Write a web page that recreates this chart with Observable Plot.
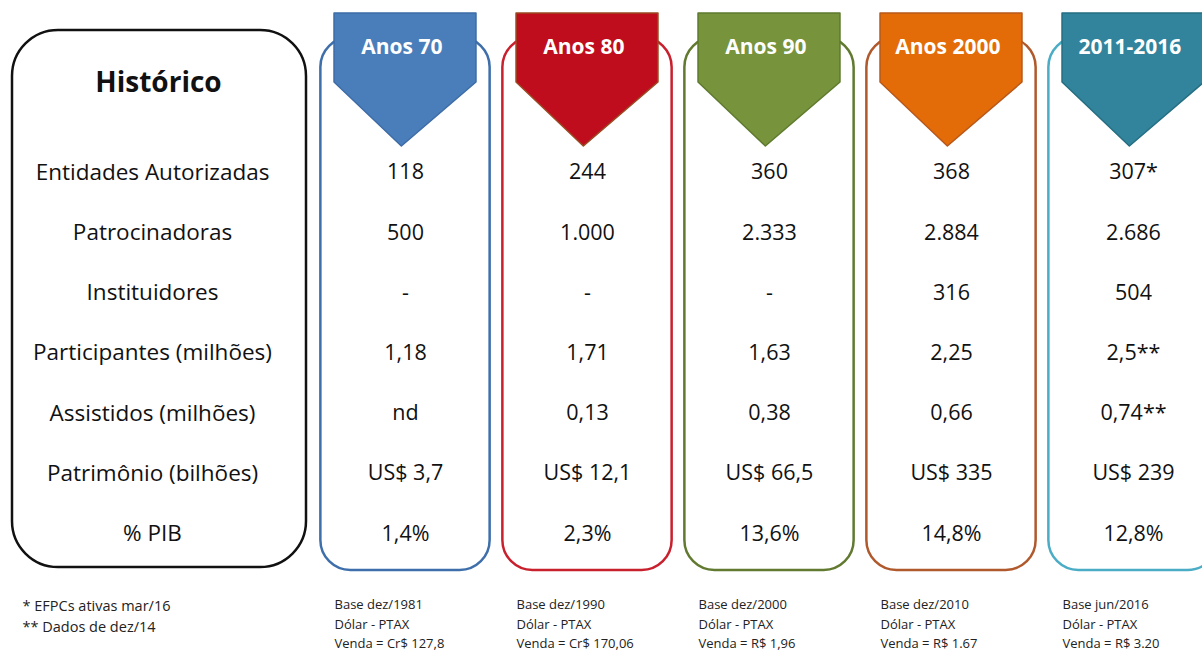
<!DOCTYPE html>
<html>
<head>
<meta charset="utf-8">
<script src="https://cdn.jsdelivr.net/npm/d3@7"></script>
<script src="https://cdn.jsdelivr.net/npm/@observablehq/plot@0.6"></script>
<style>
  html, body { margin: 0; padding: 0; background: #fff; }
  svg { display: block; }
</style>
</head>
<body>
<div id="chart"></div>
<script>
// ---------- DATA ----------
const periods = ["Anos 70", "Anos 80", "Anos 90", "Anos 2000", "2011-2016"];
const rowLabels = [
  "Entidades Autorizadas",
  "Patrocinadoras",
  "Instituidores",
  "Participantes (milhões)",
  "Assistidos (milhões)",
  "Patrimônio (bilhões)",
  "% PIB"
];
const anos70   = ["118",  "500",   "-",   "1,18",  "nd",     "US$ 3,7",  "1,4%"];
const anos80   = ["244",  "1.000", "-",   "1,71",  "0,13",   "US$ 12,1", "2,3%"];
const anos90   = ["360",  "2.333", "-",   "1,63",  "0,38",   "US$ 66,5", "13,6%"];
const anos2000 = ["368",  "2.884", "316", "2,25",  "0,66",   "US$ 335",  "14,8%"];
const anos2011 = ["307*", "2.686", "504", "2,5**", "0,74**", "US$ 239",  "12,8%"];
const title = "Histórico";
const footnotes = ["* EFPCs ativas mar/16", "** Dados de dez/14"];
const baseDates = ["Base dez/1981", "Base dez/1990", "Base dez/2000", "Base dez/2010", "Base jun/2016"];
const dolarLabel = "Dólar - PTAX";
const vendas = ["Venda = Cr$ 127,8", "Venda = Cr$ 170,06", "Venda = R$ 1,96", "Venda = R$ 1.67", "Venda = R$ 3.20"];

// ---------- STYLE ----------
const headFill   = ["#4a7ebb", "#c00d1e", "#77933c", "#e36c09", "#31849b"];
const headStroke = ["#3d6ca6", "#9a4a22", "#5e7a2e", "#b8581a", "#256e82"];
const boxStroke  = ["#3e6fab", "#c8202d", "#617a30", "#b0592c", "#4bacc6"];
const font = "Open Sans, Lato, sans-serif";

// ---------- LAYOUT (column / row units) ----------
const W = 1202, H = 655;
const COL0 = 405, COLSTEP = 182;   // column centre spacing
const ROW0 = 172, ROWSTEP = 60.2;  // row spacing
const ux = px => (px - COL0) / COLSTEP;
const uy = px => (px - ROW0) / ROWSTEP;

const columns = [anos70, anos80, anos90, anos2000, anos2011];
const cells = columns.flatMap((col, c) => col.map((v, r) => ({c, r, v})));

const headHalf = 0.39;
const headPts = periods.flatMap((p, i) => [
  {i, x: i - headHalf, bot: uy(82)},
  {i, x: i - 0.02,     bot: uy(146)},
  {i, x: i + headHalf, bot: uy(82)}
]);

const chart = Plot.plot({
  width: W, height: H,
  margin: 0,
  x: {type: "linear", domain: [ux(0), ux(W)], range: [0, W], axis: null},
  y: {type: "linear", domain: [uy(0), uy(H)], range: [0, H], axis: null},
  color: {type: "identity"},
  marks: [
    // left label box
    Plot.rect([title], {x1: ux(12), x2: ux(306), y1: uy(30), y2: uy(567), rx: 46,
      fill: "white", stroke: "#111", strokeWidth: 2.5}),
    Plot.text([title], {x: ux(158), y: uy(83), text: d => d, fontSize: 28, fontWeight: "bold",
      fontFamily: font, fill: "#111"}),
    Plot.text(rowLabels, {x: ux(152), y: (d, i) => i, text: d => d, fontSize: 22.5,
      fontFamily: font, fill: "#111"}),
    // column boxes
    Plot.rect(periods, {x1: (d, i) => i - 0.465, x2: (d, i) => i + 0.465,
      y1: uy(37), y2: uy(570), rx: 30, fill: "white",
      stroke: (d, i) => boxStroke[i], strokeWidth: 2.5}),
    // pentagon headers
    Plot.area(headPts, {x1: "x", y1: () => uy(13), y2: "bot", z: "i",
      fill: d => headFill[d.i], stroke: d => headStroke[d.i], strokeWidth: 1.5, curve: "linear"}),
    Plot.text(periods, {x: (d, i) => i - 0.02, y: uy(47), text: d => d, fill: "white",
      fontSize: 21, fontWeight: "bold", fontFamily: font}),
    // values
    Plot.text(cells, {x: "c", y: "r", text: "v", fontSize: 21.5, fontFamily: font, fill: "#111"}),
    // footnotes
    Plot.text(footnotes, {x: ux(22), y: (d, i) => uy(606) + i * (uy(627) - uy(606)), text: d => d,
      textAnchor: "start", fontSize: 14.5, fontFamily: font, fill: "#222"}),
    Plot.text(baseDates, {x: (d, i) => i - 0.39, y: uy(604), text: d => d,
      textAnchor: "start", fontSize: 13, fontFamily: font, fill: "#222"}),
    Plot.text(periods, {x: (d, i) => i - 0.39, y: uy(624), text: () => dolarLabel,
      textAnchor: "start", fontSize: 13, fontFamily: font, fill: "#222"}),
    Plot.text(vendas, {x: (d, i) => i - 0.39, y: uy(643), text: d => d,
      textAnchor: "start", fontSize: 13, fontFamily: font, fill: "#222"})
  ]
});
document.getElementById("chart").appendChild(chart);
</script>
</body>
</html>
